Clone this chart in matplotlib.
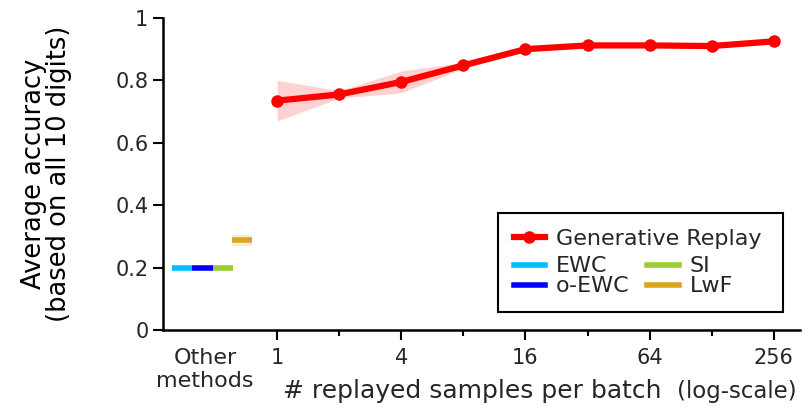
import numpy as np
import matplotlib.pyplot as plt
from matplotlib.lines import Line2D
from matplotlib.patches import Rectangle

# generative replay results
samples = [1, 2, 4, 8, 16, 32, 64, 128, 256]
gr_mean = [0.735, 0.755, 0.795, 0.848, 0.900, 0.912, 0.912, 0.910, 0.925]
gr_sem = [0.065, 0.012, 0.035, 0.010, 0.008, 0.006, 0.006, 0.006, 0.005]

# baselines shown at the left
methods = ['EWC', 'o-EWC', 'SI', 'LwF']
method_mean = [0.200, 0.200, 0.200, 0.287]
method_sem = [0.002, 0.002, 0.002, 0.018]
method_colors = ['deepskyblue', 'blue', 'yellowgreen', 'goldenrod']

x_ticks = [1, 4, 16, 64, 256]

txt = '#262626'
plt.rcParams['text.color'] = txt

fig = plt.figure(figsize=(8.12, 4.08), dpi=100)
ax = fig.add_axes([0.2007, 0.191, 0.785, 0.765])

xs = np.log2(samples)
ax.fill_between(xs, np.array(gr_mean) - gr_sem, np.array(gr_mean) + gr_sem,
                color='red', alpha=0.18, linewidth=0)
gr_line, = ax.plot(xs, gr_mean, color='red', marker='o', markersize=8, linewidth=4.5,
                   label='Generative Replay')

# other methods drawn as short horizontal bars left of the log axis
handles = []
left = -1.70
w = 0.33
for i, (name, m, s, c) in enumerate(zip(methods, method_mean, method_sem, method_colors)):
    x0 = left + i * w
    if name == 'LwF':
        x0 = left + 3 * w - 0.02
    ax.fill_between([x0, x0 + w], [m - s] * 2, [m + s] * 2, color=c, alpha=0.2, linewidth=0)
    ax.plot([x0, x0 + w], [m, m], color=c, linewidth=4, solid_capstyle='butt')
    handles.append(Line2D([], [], color=c, linewidth=4, label=name))

ax.set_xlim(-1.84, 8.43)
ax.set_ylim(0, 1)
ax.set_xticks([-1.16] + list(np.log2(x_ticks)))
ax.set_xticklabels(['Other\nmethods'] + [str(t) for t in x_ticks])
ax.set_xticks(np.log2([2, 8, 32, 128]), minor=True)
ax.set_yticks([0, 0.2, 0.4, 0.6, 0.8, 1])
ax.set_yticklabels(['0', '0.2', '0.4', '0.6', '0.8', '1'])
ax.tick_params(axis='both', labelsize=15, width=1.5, length=7, colors='black',
               labelcolor=txt)
ax.tick_params(axis='x', which='minor', width=1.5, length=4, colors='black')
ax.tick_params(axis='x', pad=6)
# "Other methods" label: no tick mark, a bit larger
t0 = ax.xaxis.get_major_ticks()[0]
t0.tick1line.set_visible(False)
t0.label1.set_fontsize(16)
t0.label1.set_linespacing(1.15)
ax.spines['top'].set_visible(False)
ax.spines['right'].set_visible(False)
ax.spines['left'].set_linewidth(1.8)
ax.spines['bottom'].set_linewidth(1.8)

ax.set_ylabel('Average accuracy\n(based on all 10 digits)', fontsize=18.5, linespacing=0.95)
ax.yaxis.set_label_coords(-0.143, 0.5)
fig.text(0.349, 0.025, '# replayed samples per batch', fontsize=18, va='baseline')
fig.text(0.834, 0.025, '(log-scale)', fontsize=16.5, va='baseline')

# legend: framed box holding two borderless legends
ax.add_patch(Rectangle((0.526, 0.058), 0.446, 0.317, transform=ax.transAxes,
                       facecolor='white', edgecolor='black', linewidth=1.5, zorder=6))
leg1 = ax.legend(handles=[gr_line], loc='upper left', bbox_to_anchor=(0.526, 0.375),
                 fontsize=16, frameon=False, handlelength=1.4, handletextpad=0.5,
                 borderaxespad=0.3)
leg1.set_zorder(7)
ax.add_artist(leg1)
leg2 = ax.legend(handles=handles, ncol=2, loc='lower left', bbox_to_anchor=(0.526, 0.058),
                 fontsize=16, frameon=False, handlelength=1.4, handletextpad=0.5,
                 columnspacing=0.8, labelspacing=0.0, borderaxespad=0.3)
leg2.set_zorder(7)

plt.savefig('out.png', dpi=100)
